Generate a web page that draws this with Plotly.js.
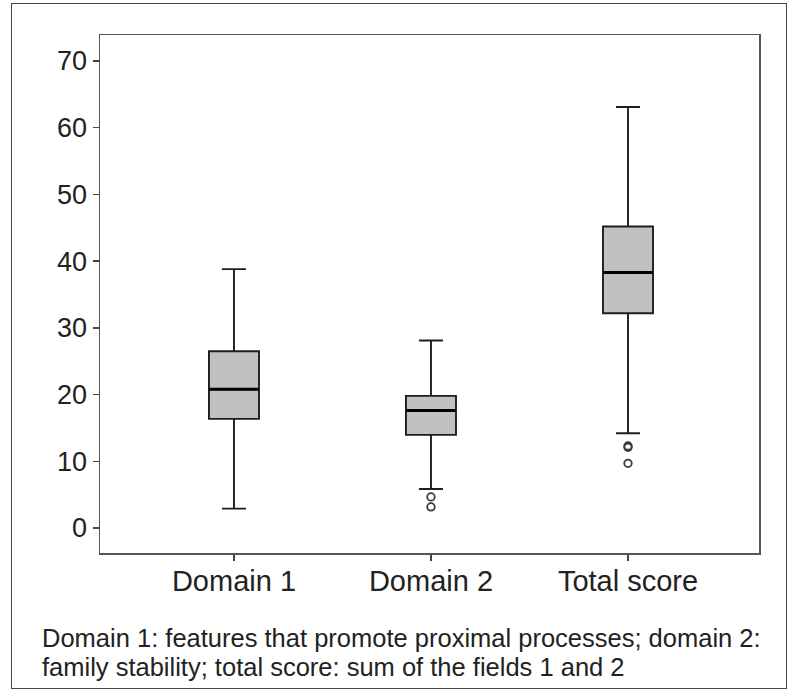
<!DOCTYPE html>
<html>
<head>
<meta charset="utf-8">
<script src="https://cdn.plot.ly/plotly-3.0.1.min.js"></script>
<style>
  body { margin: 0; background: #fff; }
  #frame { position: absolute; left: 11px; top: 3px; width: 774px; height: 684px; border: 1.5px solid #444; pointer-events: none; }
</style>
</head>
<body>
<div id="myDiv" style="width:797px;height:700px;"></div>
<div id="frame"></div>
<script>
// box statistics
var groups = ['Domain 1', 'Domain 2', 'Total score'];
var lowerWhisker = [2.9, 5.85, 14.2];
var q1 = [16.35, 13.95, 32.2];
var median = [20.8, 17.6, 38.3];
var q3 = [26.5, 19.8, 45.2];
var upperWhisker = [38.8, 28.1, 63.1];

// outliers
var outlierGroup = ['Domain 2', 'Domain 2', 'Total score', 'Total score', 'Total score'];
var outlierValue = [4.65, 3.15, 12.1, 12.3, 9.7];

var captionLines = [
    'Domain 1: features that promote proximal processes; domain 2:',
    'family stability; total score: sum of the fields 1 and 2'
];

var boxW = 0.254;

var data = [{
    type: 'box',
    x: groups,
    q1: q1,
    median: median,
    q3: q3,
    lowerfence: lowerWhisker,
    upperfence: upperWhisker,
    width: boxW,
    whiskerwidth: 0.48,
    fillcolor: '#c1c1c1',
    line: {color: '#1e1e1e', width: 1.9},
    boxpoints: false,
    hoverinfo: 'none'
}, {
    type: 'scatter',
    mode: 'markers',
    x: outlierGroup,
    y: outlierValue,
    marker: {symbol: 'circle-open', size: 7.5, color: '#3a3a3a', line: {width: 1.8, color: '#3a3a3a'}},
    hoverinfo: 'none'
}];

// thicker median bars on top of the boxes
var shapes = median.map(function (m, i) {
    return {
        type: 'line', xref: 'x', yref: 'y',
        x0: i - boxW / 2, x1: i + boxW / 2, y0: m, y1: m,
        line: {color: '#000', width: 3}
    };
});

// caption, one annotation per line so the spacing can be set
var annotations = captionLines.map(function (t, i) {
    return {
        xref: 'paper', yref: 'paper',
        x: -0.091, y: -0.164 - i * 0.057,
        xanchor: 'left', yanchor: 'middle',
        align: 'left',
        showarrow: false,
        text: t,
        font: {size: 25.5, color: '#222'}
    };
});

var layout = {
    width: 797,
    height: 700,
    margin: {l: 100, r: 38, t: 35, b: 147},
    paper_bgcolor: '#fff',
    plot_bgcolor: '#fff',
    showlegend: false,
    font: {family: 'Liberation Sans, Arial, sans-serif', color: '#222'},
    xaxis: {
        type: 'category',
        range: [-0.68, 2.665],
        showgrid: false,
        zeroline: false,
        showline: true,
        mirror: true,
        linecolor: '#555',
        linewidth: 1.5,
        ticks: 'outside',
        ticklen: 6,
        tickwidth: 1.5,
        tickcolor: '#444',
        ticklabelstandoff: -4,
        tickfont: {size: 29, color: '#222'}
    },
    yaxis: {
        range: [-3.75, 73.9],
        tickvals: [0, 10, 20, 30, 40, 50, 60, 70],
        showgrid: false,
        zeroline: false,
        showline: true,
        mirror: true,
        linecolor: '#555',
        linewidth: 1.5,
        ticks: 'outside',
        ticklen: 6,
        tickwidth: 1.5,
        tickcolor: '#444',
        tickfont: {size: 27, color: '#222'}
    },
    shapes: shapes,
    annotations: annotations
};

Plotly.newPlot('myDiv', data, layout, {staticPlot: true});
</script>
</body>
</html>
